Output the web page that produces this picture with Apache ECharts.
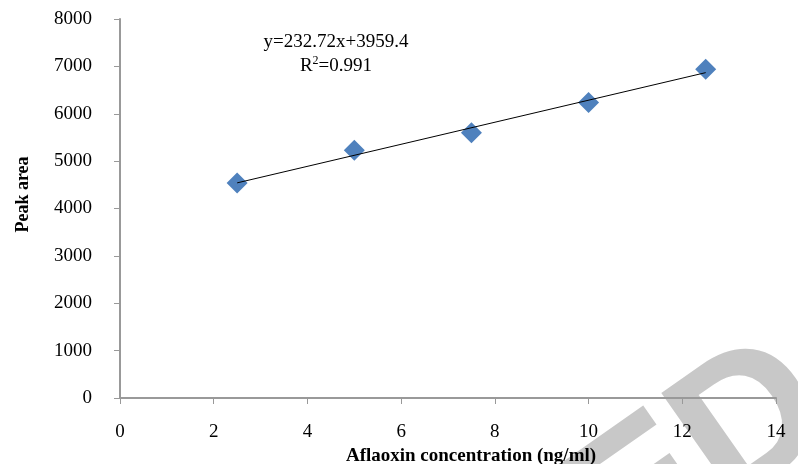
<!DOCTYPE html>
<html>
<head>
<meta charset="utf-8">
<script src="https://cdn.jsdelivr.net/npm/echarts@6/dist/echarts.min.js"></script>
<style>
  html, body { margin: 0; padding: 0; background: #fff; }
  #chart { width: 798px; height: 464px; }
</style>
</head>
<body>
<div id="chart"></div>
<script>
'use strict';

// 标准曲线数据
const concentration = [2.5, 5, 7.5, 10, 12.5];
const peakArea = [4540, 5230, 5600, 6240, 6940];
// 趋势线两端 (y=232.72x+3959.4)
const trendX = [2.5, 12.5];
const trendY = [4541, 6868];
const equationText = 'y=232.72x+3959.4';
const r2Text = '0.991';

function makeCalibrationChart() {
    let myChart = echarts.init(document.getElementById('chart'));
    const serif = 'Liberation Serif, Times New Roman, serif';

    let points = concentration.map(function (x, i) { return [x, peakArea[i]]; });
    let trend = trendX.map(function (x, i) { return [x, trendY[i]]; });

    myChart.setOption({
        animation: false,
        backgroundColor: '#fff',
        grid: {
            left: 120,
            right: 22,
            top: 19,
            bottom: 66,
            outerBoundsMode: 'none',
            containLabel: false
        },
        xAxis: {
            type: 'value',
            min: 0,
            max: 14,
            interval: 2,
            name: 'Aflaoxin concentration (ng/ml)',
            nameLocation: 'middle',
            nameGap: 41,
            nameTextStyle: {
                fontFamily: serif,
                fontWeight: 'bold',
                fontSize: 19,
                color: '#000',
                padding: [0, 0, 0, 46]
            },
            splitLine: {show: false},
            axisLine: {lineStyle: {color: '#999', width: 2}},
            axisTick: {show: true, length: 6, lineStyle: {color: '#999', width: 1}},
            axisLabel: {
                fontFamily: serif,
                fontSize: 19,
                color: '#000',
                margin: 25
            }
        },
        yAxis: {
            type: 'value',
            min: 0,
            max: 8000,
            interval: 1000,
            name: 'Peak area',
            nameLocation: 'middle',
            nameGap: 88,
            nameRotate: 90,
            nameTextStyle: {
                fontFamily: serif,
                fontWeight: 'bold',
                fontSize: 18,
                color: '#000',
                padding: [0, 0, 0, 28]
            },
            splitLine: {show: false},
            axisLine: {show: true, lineStyle: {color: '#999', width: 2}},
            axisTick: {show: true, length: 6, lineStyle: {color: '#999', width: 1}},
            axisLabel: {
                fontFamily: serif,
                fontSize: 19,
                color: '#000',
                margin: 28,
                formatter: function (val) { return String(val); }
            }
        },
        graphic: [
            {
                // 水印 (只露出一角)
                type: 'text',
                z: -10,
                x: 755,
                y: 308,
                rotation: 35 * Math.PI / 180,
                style: {
                    text: 'ACCEPTED',
                    fontFamily: 'Liberation Sans, Arial, sans-serif',
                    fontWeight: 'bold',
                    fontSize: 190,
                    fill: '#c8c8c8',
                    stroke: '#c8c8c8',
                    lineWidth: 2,
                    align: 'right',
                    verticalAlign: 'top'
                }
            },
            {
                type: 'text',
                x: 336,
                y: 42,
                style: {
                    text: equationText,
                    fontFamily: serif,
                    fontSize: 19,
                    fill: '#000',
                    align: 'center',
                    verticalAlign: 'middle'
                }
            },
            {
                type: 'text',
                x: 336,
                y: 66,
                style: {
                    text: '{b|R}{s|2}{b|=' + r2Text + '}',
                    align: 'center',
                    verticalAlign: 'middle',
                    rich: {
                        b: {fontFamily: serif, fontSize: 19, color: '#000', lineHeight: 22},
                        s: {fontFamily: serif, fontSize: 12, color: '#000', lineHeight: 22, verticalAlign: 'top', padding: [0, 0, 10, 0]}
                    }
                }
            }
        ],
        series: [
            {
                name: 'trend',
                type: 'line',
                data: trend,
                symbol: 'none',
                lineStyle: {color: '#000', width: 1},
                z: 3,
                silent: true
            },
            {
                name: 'Peak area',
                type: 'scatter',
                data: points,
                symbol: 'diamond',
                symbolSize: [21, 21],
                itemStyle: {color: '#4F81BD', opacity: 1},
                z: 2
            }
        ]
    });
}

makeCalibrationChart();
</script>
</body>
</html>
